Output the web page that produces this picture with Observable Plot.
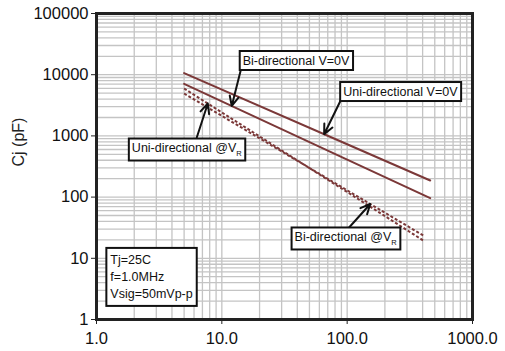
<!DOCTYPE html>
<html>
<head>
<meta charset="utf-8">
<script src="https://cdn.jsdelivr.net/npm/d3@7"></script>
<script src="https://cdn.jsdelivr.net/npm/@observablehq/plot@0.6"></script>
<style>
  html, body { margin: 0; padding: 0; background: #fff; }
  #chart svg { display: block; }
</style>
</head>
<body>
<div id="chart"></div>
<script>
// ---- Axis ticks ----
const xTicks = [1, 10, 100, 1000];
const xTickLabels = ["1.0", "10.0", "100.0", "1000.0"];
const yTicks = [1, 10, 100, 1000, 10000, 100000];
const yTickLabels = ["1", "10", "100", "1000", "10000", "100000"];
const yLabel = "Cj (pF)";

// ---- Series (voltage V, capacitance pF) ----
const vUni0 = [5, 100, 460];
const cUni0 = [10600, 730, 187];
const vBi0 = [5, 100, 460];
const cBi0 = [7100, 410, 96];
const vUniVR = [5, 100, 405];
const cUniVR = [5950, 121, 19.5];
const vBiVR = [5, 100, 405];
const cBiVR = [4930, 129, 23.6];

// ---- Annotations ----
const annLabels = ["Bi-directional V=0V", "Uni-directional V=0V", "Uni-directional @V_R", "Bi-directional @V_R"];
const annX = [39.1, 265.5, 5.25, 97.3];
const annY = [17060, 5310, 634, 22.3];
const arrowFromX = [14.2, 89.5, 6.31, 101.9];
const arrowFromY = [12160, 3935, 942, 30.7];
const arrowToX = [12.0, 65.5, 7.73, 152.8];
const arrowTarget = ["Bi0", "Uni0", "UniVR", "BiVR"];

const condText = ["Tj=25C", "f=1.0MHz", "Vsig=50mVp-p"];
const condX = 1.29;
const condY = 5.24;

// ---- Build tables ----
const seriesDefs = {
  Uni0: {v: vUni0, c: cUni0, dashed: false},
  Bi0: {v: vBi0, c: cBi0, dashed: false},
  UniVR: {v: vUniVR, c: cUniVR, dashed: true},
  BiVR: {v: vBiVR, c: cBiVR, dashed: true}
};
const rows = [];
for (const [name, s] of Object.entries(seriesDefs)) {
  s.v.forEach((v, i) => rows.push({name, v, c: s.c[i], dashed: s.dashed}));
}
function capAt(name, v) {
  const s = seriesDefs[name];
  const lv = Math.log10(v);
  for (let i = 0; i < s.v.length - 1; i++) {
    const a = Math.log10(s.v[i]), b = Math.log10(s.v[i + 1]);
    if ((lv >= a && lv <= b) || i === s.v.length - 2) {
      const t = (lv - a) / (b - a);
      return Math.pow(10, Math.log10(s.c[i]) + t * (Math.log10(s.c[i + 1]) - Math.log10(s.c[i])));
    }
  }
}
const arrows = annLabels.map((l, i) => ({
  x1: arrowFromX[i], y1: arrowFromY[i],
  x2: arrowToX[i], y2: capAt(arrowTarget[i], arrowToX[i])
}));
const anns = annLabels.map((l, i) => ({label: l, x: annX[i], y: annY[i]}));

// grid lines at 1..9 × decades
const gridX = [];
for (let e = 0; e < 3; e++) for (let k = 1; k <= 9; k++) gridX.push(k * Math.pow(10, e));
gridX.push(1000);
const gridY = [];
for (let e = 0; e < 5; e++) for (let k = 1; k <= 9; k++) gridY.push(k * Math.pow(10, e));
gridY.push(100000);

const lineColor = "#7b3838";
const gridColor = "#c4c4c4";

const chart = Plot.plot({
  width: 505,
  height: 351,
  marginLeft: 96,
  marginRight: 33,
  marginTop: 13,
  marginBottom: 32,
  style: {fontFamily: "'Liberation Sans', Arial, sans-serif", fontSize: "16.5px", background: "#fff", color: "#111"},
  x: {type: "log", domain: [1, 1000]},
  y: {type: "log", domain: [1, 100000]},
  marks: [
    Plot.ruleX(gridX, {stroke: gridColor, strokeWidth: 1.3}),
    Plot.ruleY(gridY, {stroke: gridColor, strokeWidth: 1.3}),
    Plot.line(rows.filter(d => !d.dashed), {x: "v", y: "c", z: "name", stroke: lineColor, strokeWidth: 2}),
    Plot.line(rows.filter(d => d.dashed), {x: "v", y: "c", z: "name", stroke: lineColor, strokeWidth: 2, strokeDasharray: "3,2", strokeLinecap: "butt"}),
    Plot.arrow(arrows, {x1: "x1", y1: "y1", x2: "x2", y2: "y2", stroke: "#111", strokeWidth: 2, headLength: 8, headAngle: 50}),
    Plot.text(anns, {x: "x", y: "y", text: "label", fontSize: 12.5, fill: "#111", textAnchor: "middle"}),
    Plot.text([condText.join("\n")], {x: condX, y: condY, text: d => d, fontSize: 12.5, lineHeight: 1.36, fill: "#111", textAnchor: "start"}),
    Plot.text([yLabel], {frameAnchor: "left", dx: -78, rotate: -90, fontSize: 16, fill: "#222"}),
    Plot.axisX({ticks: xTicks, tickFormat: d => xTickLabels[xTicks.indexOf(d)], tickSize: 5, tickPadding: 8, label: null, stroke: "#222"}),
    Plot.axisY({ticks: yTicks, tickFormat: d => yTickLabels[yTicks.indexOf(d)], tickSize: 5, tickPadding: 3, label: null, stroke: "#222"}),
    Plot.frame({stroke: "#222", strokeWidth: 3})
  ]
});

document.getElementById("chart").append(chart);

// subscripts and boxes around annotation texts
const NS = "http://www.w3.org/2000/svg";
function boxText(t, px, py) {
  const bb = t.getBBox();
  const r = document.createElementNS(NS, "rect");
  r.setAttribute("x", bb.x - px);
  r.setAttribute("y", bb.y - py);
  r.setAttribute("width", bb.width + 2 * px);
  r.setAttribute("height", bb.height + 2 * py);
  r.setAttribute("fill", "#fff");
  r.setAttribute("stroke", "#111");
  r.setAttribute("stroke-width", 2);
  if (t.getAttribute("transform")) r.setAttribute("transform", t.getAttribute("transform"));
  t.parentNode.insertBefore(r, t);
}
const condJoined = condText.join("");
Array.from(chart.querySelectorAll("text")).forEach(t => {
  const s = t.textContent;
  if (annLabels.includes(s)) {
    if (s.includes("_R")) {
      t.textContent = s.replace("_R", "");
      const sub = document.createElementNS(NS, "tspan");
      sub.textContent = "R";
      sub.setAttribute("font-size", "7.5");
      sub.setAttribute("dy", "4");
      t.appendChild(sub);
    }
    boxText(t, 3, 2.5);
  } else if (s === condJoined) {
    boxText(t, 4, 5);
  }
});
</script>
</body>
</html>
